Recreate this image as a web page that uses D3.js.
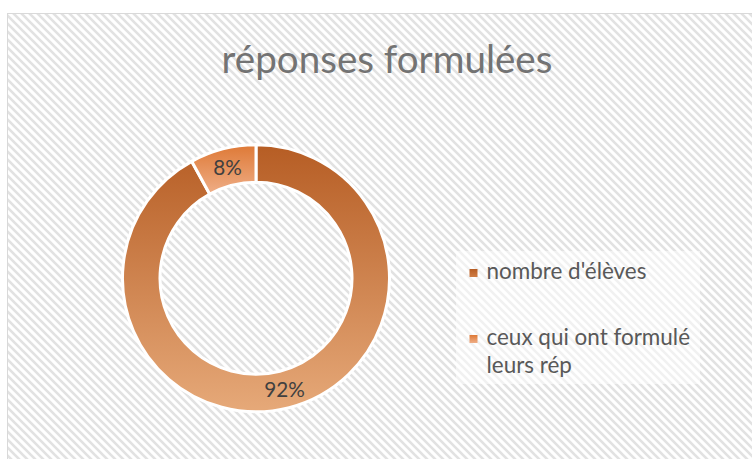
<!DOCTYPE html>
<html>
<head>
<meta charset="utf-8">
<script src="https://cdn.jsdelivr.net/npm/d3@7"></script>
<style>
html,body{margin:0;padding:0;background:#fff;}
svg{display:block;}
</style>
</head>
<body>
<script>
const title = "réponses formulées";
const categories = ["nombre d'élèves", "ceux qui ont formulé leurs rép"];
const legendLines = [["nombre d'élèves"], ["ceux qui ont formulé", "leurs rép"]];
const values = [92, 8];
const valueLabels = ["92%", "8%"];
const gradTop = ["#b65d24", "#de7936"];
const gradBottom = ["#e6a979", "#efae87"];

const W = 752, H = 459;
const svg = d3.select("body").append("svg").attr("width", W).attr("height", H);
const defs = svg.append("defs");

// hatch pattern
const pat = defs.append("pattern").attr("id", "hatch").attr("patternUnits", "userSpaceOnUse")
  .attr("width", 8).attr("height", 8);
pat.append("rect").attr("width", 8).attr("height", 8).attr("fill", "#ffffff");
pat.append("path").attr("d", "M-2,-2 L10,10 M-2,6 L2,10 M6,-2 L10,2")
  .attr("stroke", "#e2e2e2").attr("stroke-width", 2.6).attr("fill", "none");

svg.append("rect").attr("x", 7.5).attr("y", 13.5).attr("width", W).attr("height", H)
  .attr("fill", "url(#hatch)").attr("stroke", "#d9d9d9").attr("stroke-width", 1);

// title
const fitText = (sel, target) => {
  const w = sel.node().getComputedTextLength();
  const fs = parseFloat(sel.attr("font-size"));
  sel.attr("font-size", fs * target / w);
  return fs * target / w;
};
const t = svg.append("text").attr("x", 387).attr("y", 73).attr("text-anchor", "middle")
  .attr("font-family", "Lato, 'Open Sans', sans-serif").attr("font-size", 40)
  .attr("fill", "#737373").text(title);
fitText(t, 331);

// donut
const cx = 256, cy = 278.3, rOut = 133.5, rIn = 96;
const pie = d3.pie().sort(null).value(d => d)(values);
const arc = d3.arc().innerRadius(rIn).outerRadius(rOut);

values.forEach((v, i) => {
  const g = defs.append("linearGradient").attr("id", "g" + i)
    .attr("x1", 0).attr("y1", 0).attr("x2", 0).attr("y2", 1);
  g.append("stop").attr("offset", "0%").attr("stop-color", gradTop[i]);
  g.append("stop").attr("offset", "100%").attr("stop-color", gradBottom[i]);
});
// first slice gradient across whole ring (coordinates local to the donut group)
d3.select("#g0").attr("gradientUnits", "userSpaceOnUse")
  .attr("x1", 0).attr("x2", 0).attr("y1", -rOut).attr("y2", rOut);

const gd = svg.append("g").attr("transform", `translate(${cx},${cy})`);
gd.selectAll("path.slice").data(pie).join("path").attr("class", "slice")
  .attr("d", arc)
  .attr("fill", (d, i) => `url(#g${i})`)
  .attr("stroke", "#ffffff").attr("stroke-width", 3).attr("stroke-linejoin", "miter");

const labelFont = 23.5;
gd.selectAll("text.lbl").data(pie).join("text").attr("class", "lbl")
  .attr("x", d => arc.centroid(d)[0])
  .attr("y", d => arc.centroid(d)[1])
  .attr("dy", "0.36em")
  .attr("text-anchor", "middle")
  .attr("font-family", "Lato, 'Open Sans', sans-serif")
  .attr("font-size", labelFont)
  .attr("fill", "#404040")
  .text((d, i) => valueLabels[i]);
{
  const n = gd.selectAll("text.lbl").nodes()[0];
  const w = n.getComputedTextLength();
  const fs = labelFont * 40.6 / w;
  gd.selectAll("text.lbl").attr("font-size", fs);
}

// legend
svg.append("rect").attr("x", 456).attr("y", 251).attr("width", 244).attr("height", 133)
  .attr("fill", "#ffffff").attr("fill-opacity", 0.5);

const legendY = [279, 345];
const lineH = 28;
legendLines.forEach((lines, i) => {
  const g = defs.append("linearGradient").attr("id", "lg" + i)
    .attr("x1", 0).attr("y1", 0).attr("x2", 0).attr("y2", 1);
  g.append("stop").attr("offset", "0%").attr("stop-color", gradTop[i]);
  g.append("stop").attr("offset", "100%").attr("stop-color", i === 0 ? "#d07d45" : gradBottom[i]);
  svg.append("rect").attr("x", 469.5).attr("y", legendY[i] - 10).attr("width", 8).attr("height", 8)
    .attr("fill", `url(#lg${i})`);
});
const legText = svg.append("g");
let legFs = 24;
legendLines.forEach((lines, i) => {
  lines.forEach((ln, j) => {
    legText.append("text").attr("x", 486.5).attr("y", legendY[i] + j * lineH)
      .attr("font-family", "Lato, 'Open Sans', sans-serif").attr("font-size", legFs)
      .attr("fill", "#595959").text(ln);
  });
});
{
  const n = legText.selectAll("text").nodes()[0];
  const w = n.getComputedTextLength();
  legText.selectAll("text").attr("font-size", legFs * 160 / w);
}
</script>
</body>
</html>
